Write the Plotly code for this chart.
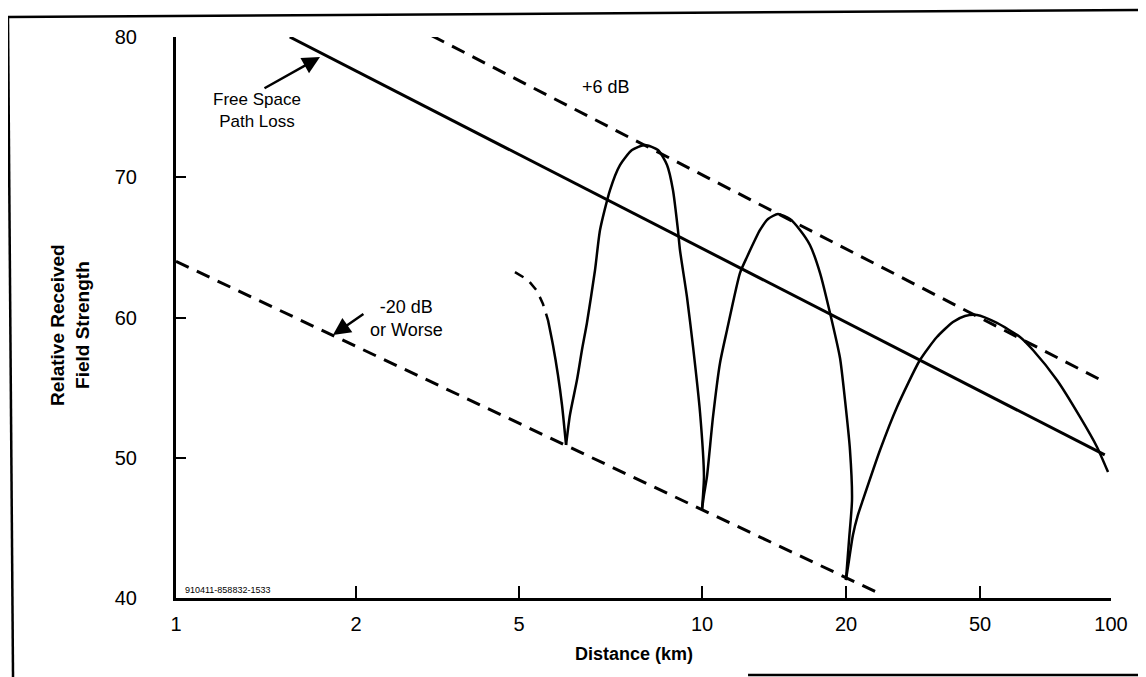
import plotly.graph_objects as go

# ---- data (axis position units: x, field strength: y) ----
distance_labels = ["1", "2", "5", "10", "20", "50", "100"]
distance_pos = [0.0, 1.155, 2.201, 3.376, 4.300, 5.160, 6.0]
strength_ticks = [40, 50, 60, 70, 80]

free_space_x = [0.73, 5.96]
free_space_y = [80.0, 50.2]

plus6_x = [1.64, 5.96]
plus6_y = [80.1, 55.4]

minus20_x = [0.0, 4.50]
minus20_y = [64.0, 40.4]

lead_x = [2.175, 2.259, 2.317, 2.355, 2.387]
lead_y = [63.24, 62.67, 61.89, 60.96, 59.82]

wave_x = [2.387, 2.419, 2.451, 2.477, 2.503,
          2.528, 2.573, 2.605, 2.637, 2.689, 2.721, 2.785, 2.849, 2.926, 3.010,
          3.093, 3.151, 3.189, 3.221, 3.234, 3.279, 3.318, 3.363, 3.388, 3.382, 3.375,
          3.388, 3.407, 3.446, 3.491, 3.536, 3.619, 3.664, 3.748, 3.799, 3.863,
          3.940, 4.004, 4.068, 4.133, 4.197, 4.261, 4.293, 4.325, 4.338, 4.319, 4.299,
          4.319, 4.344, 4.376, 4.408, 4.518, 4.627, 4.774, 4.883, 4.986, 5.063, 5.140,
          5.268, 5.416, 5.499, 5.653, 5.801, 5.910, 5.981]
wave_y = [59.82, 58.04, 55.90, 53.76, 50.91,
          53.05, 55.54, 57.68, 59.61, 63.39, 66.24, 69.09, 70.87, 71.94, 72.30,
          71.94, 70.87, 69.09, 66.24, 64.81, 61.46, 57.90, 53.19, 48.63, 47.34, 46.27,
          47.34, 48.63, 52.91, 56.76, 59.11, 63.17, 64.31, 66.24, 67.02, 67.38,
          67.02, 66.24, 65.17, 63.17, 60.32, 57.11, 54.12, 50.55, 46.99, 44.14, 41.28,
          42.71, 44.49, 45.92, 46.99, 50.55, 53.62, 56.97, 58.61, 59.68, 60.11, 60.18,
          59.61, 58.61, 57.68, 55.54, 52.91, 50.77, 48.98]

FONT = "Arial, Liberation Sans, sans-serif"
BLACK = "#000000"

fig = go.Figure()

fig.add_trace(go.Scatter(x=free_space_x, y=free_space_y, mode="lines",
                         line=dict(color=BLACK, width=3)))
fig.add_trace(go.Scatter(x=plus6_x, y=plus6_y, mode="lines",
                         line=dict(color=BLACK, width=3, dash="14px,9px")))
fig.add_trace(go.Scatter(x=minus20_x, y=minus20_y, mode="lines",
                         line=dict(color=BLACK, width=3, dash="14px,9px")))
fig.add_trace(go.Scatter(x=lead_x, y=lead_y, mode="lines",
                         line=dict(color=BLACK, width=2.5, dash="10px,8px")))

# split the interference curve at its nulls so each lobe is smooth, cusps stay sharp
cuts = [0]
for i in range(1, len(wave_y) - 1):
    if wave_y[i] < wave_y[i - 1] and wave_y[i] < wave_y[i + 1]:
        cuts.append(i)
cuts.append(len(wave_y) - 1)
for a, b in zip(cuts[:-1], cuts[1:]):
    fig.add_trace(go.Scatter(x=wave_x[a:b + 1], y=wave_y[a:b + 1], mode="lines",
                             line=dict(color=BLACK, width=2.5, shape="spline", smoothing=0.6)))

annotations = [
    dict(x=0.52, y=74.75, xref="x", yref="y", text="Free Space<br>Path Loss",
         showarrow=False, font=dict(size=17, family=FONT, color=BLACK), align="center"),
    dict(x=0.924, y=78.57, xref="x", yref="y", text="", showarrow=True,
         ax=-57, ay=32, arrowhead=2, arrowsize=1.4, arrowwidth=2.5, arrowcolor=BLACK),
    dict(x=2.76, y=76.4, xref="x", yref="y", text="+6 dB",
         showarrow=False, font=dict(size=18, family=FONT, color=BLACK)),
    dict(x=1.476, y=59.9, xref="x", yref="y", text="-20 dB<br>or Worse",
         showarrow=False, font=dict(size=18, family=FONT, color=BLACK), align="center"),
    dict(x=1.007, y=58.75, xref="x", yref="y", text="", showarrow=True,
         ax=32, ay=-22, arrowhead=2, arrowsize=1.4, arrowwidth=2.5, arrowcolor=BLACK),
    dict(x=0.045, y=40.6, xref="x", yref="y", text="910411-858832-1533",
         xanchor="left", showarrow=False, font=dict(size=9, family=FONT, color=BLACK)),
    dict(x=-0.140, y=0.487, xref="paper", yref="paper",
         text="<b>Relative Received<br>Field Strength</b>", textangle=-90,
         showarrow=False, font=dict(size=19, family=FONT, color=BLACK), align="center"),
    dict(x=0.49, y=-0.10, xref="paper", yref="paper", text="<b>Distance (km)</b>",
         yanchor="middle", showarrow=False, font=dict(size=18, family=FONT, color=BLACK)),
]

frame = dict(color=BLACK, width=2.5)
shapes = [
    dict(type="line", xref="paper", yref="paper", x0=-0.1797, y0=1.0357, x1=1.0374, y1=1.0481, line=frame),
    dict(type="line", xref="paper", yref="paper", x0=-0.1797, y0=1.0357, x1=-0.1743, y1=-0.1408, line=frame),
    dict(type="line", xref="paper", yref="paper", x0=0.6118, y0=-0.1373, x1=1.0374, y1=-0.1373, line=frame),
    dict(type="line", xref="paper", yref="paper", x0=1.0342, y0=1.0481, x1=1.0342, y1=-0.1373, line=frame),
]

# the page body adds an 8px offset, so margins are reduced by 8px on the left/top
fig.update_layout(
    width=1146, height=677,
    margin=dict(l=168, r=43, t=29, b=87),
    paper_bgcolor="white", plot_bgcolor="white",
    showlegend=False,
    font=dict(family=FONT, color=BLACK),
    annotations=annotations,
    shapes=shapes,
)
fig.update_xaxes(range=[0, 6.0], tickmode="array", tickvals=distance_pos,
                 ticktext=distance_labels, showgrid=False, zeroline=False,
                 showline=True, linecolor=BLACK, linewidth=3,
                 ticks="inside", ticklen=12, tickwidth=2, tickcolor=BLACK,
                 ticklabelstandoff=6, tickfont=dict(size=20, family=FONT, color=BLACK))
fig.update_yaxes(range=[40, 80], tickmode="array", tickvals=strength_ticks,
                 showgrid=False, zeroline=False,
                 showline=True, linecolor=BLACK, linewidth=3,
                 ticks="inside", ticklen=10, tickwidth=2, tickcolor=BLACK,
                 ticklabelstandoff=32, tickfont=dict(size=20, family=FONT, color=BLACK))

fig.write_html("out.html")
